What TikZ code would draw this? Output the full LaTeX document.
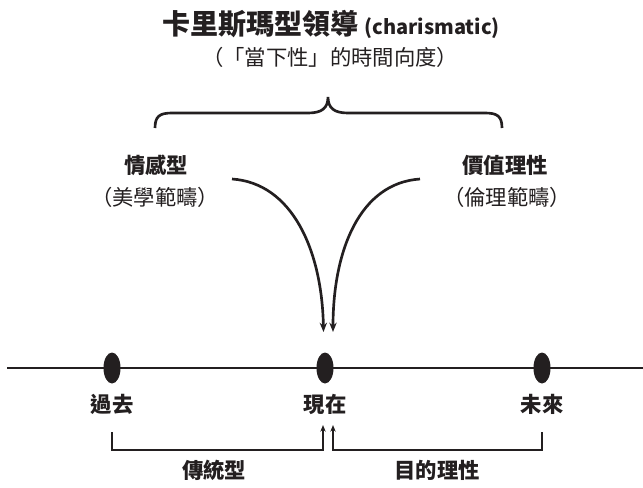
\documentclass[tikz,border=0pt]{standalone}
\usepackage{fontspec}
\setmainfont{Noto Sans CJK TC}
\usetikzlibrary{shapes.geometric,arrows.meta}
\definecolor{ink}{RGB}{35,31,32}
\begin{document}
\begin{tikzpicture}[x=0.75pt,y=-0.75pt,
  lbl/.style={font=\bfseries\fontsize{16}{18}\selectfont, text=ink, inner sep=0},
  subl/.style={font=\fontsize{16}{18}\selectfont, text=ink, inner sep=0},
  titl/.style={font=\bfseries\fontsize{21}{24}\selectfont, text=ink, inner sep=0},
  dotn/.style={ellipse, fill=ink, minimum width=12.75pt, minimum height=23.25pt, inner sep=0},
  ln/.style={draw=ink, line width=1.6pt},
  brc/.style={draw=ink, line width=2pt},
  arr/.style={draw=ink, line width=2pt, -{Stealth[length=7pt,width=5.5pt]}},
  arrs/.style={draw=ink, line width=1.5pt, -{Stealth[length=5pt,width=4pt]}}]
\useasboundingbox (0,0) rectangle (643,487);
% titles
\node[titl] (title) at (331,24) {卡里斯瑪型領導 {\fontsize{15}{18}\selectfont (charismatic)}};
\node[subl] (subt) at (330,57) {（「當下性」的時間向度）};
% brace
\draw[brc] (155,128) .. controls (155,116) and (160,113) .. (172,113) -- (308,113)
  .. controls (322,113) and (328,108) .. (328,97)
  .. controls (328,108) and (334,113) .. (348,113) -- (485,113)
  .. controls (497,113) and (502,116) .. (502,128);
% side labels
\node[lbl] (emo) at (156,165) {情感型};
\node[subl] (emos) at (155,197) {（美學範疇）};
\node[lbl] (val) at (505,165) {價值理性};
\node[subl] (vals) at (507,197) {（倫理範疇）};
% curved arrows
\coordinate (a1) at (232,179);
\coordinate (a1e) at (323.5,332);
\coordinate (a2) at (420,179);
\coordinate (a2e) at (333,332);
\draw[arr] (a1) .. controls (292,183) and (322,250) .. (a1e);
\draw[arr] (a2) .. controls (360,183) and (333,250) .. (a2e);
% timeline
\coordinate (tl) at (7,368);
\coordinate (tr) at (643,368);
\draw[ln] (tl) -- (tr);
\node[dotn] (past) at (112,368) {};
\node[dotn] (now) at (325,368) {};
\node[dotn] (fut) at (542,368) {};
\node[lbl] (pastl) at (112,404) {過去};
\node[lbl] (nowl) at (325,404) {現在};
\node[lbl] (futl) at (542,404) {未來};
% bottom brackets
\coordinate (b1) at (112,432);
\coordinate (b1e) at (323,425);
\coordinate (b2) at (542,432);
\coordinate (b2e) at (333,425);
\draw[arrs] (b1) |- (323,450) -- (b1e);
\draw[arrs] (b2) |- (333,450) -- (b2e);
\node[lbl] (trad) at (214,470) {傳統型};
\node[lbl] (goal) at (437,470) {目的理性};
\end{tikzpicture}
\end{document}
